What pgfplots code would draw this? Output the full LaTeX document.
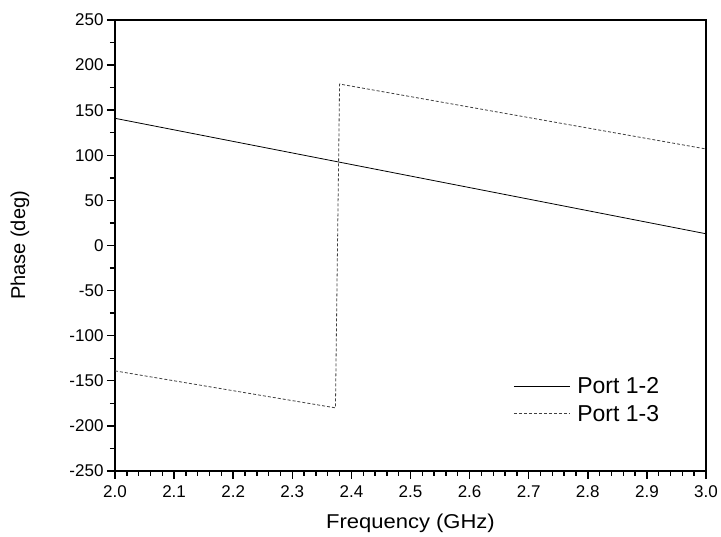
\documentclass[border=0pt]{standalone}
\usepackage{fontspec}
\setmainfont{Liberation Sans}
\newfontfamily\xlabfont[FakeStretch=1.1]{Liberation Sans}
\usepackage{pgfplots}
\pgfplotsset{compat=1.18}
\newcommand{\tl}{\fontsize{17}{19}\selectfont}
\begin{document}
\begin{tikzpicture}
\begin{axis}[
  at={(0pt,0pt)}, anchor=south west,
  scale only axis, width=591pt, height=451pt,
  xmin=2.0, xmax=3.0, ymin=-250, ymax=250,
  xtick={2.0,2.1,...,3.01}, ytick={-250,-200,...,250},
  xticklabels={\tl 2.0,\tl 2.1,\tl 2.2,\tl 2.3,\tl 2.4,\tl 2.5,\tl 2.6,\tl 2.7,\tl 2.8,\tl 2.9,\tl 3.0},
  yticklabels={\tl -250,\tl -200,\tl -150,\tl -100,\tl -50,\tl 0,\tl 50,\tl 100,\tl 150,\tl 200,\tl 250},
  every x tick label/.append style={font=\fontsize{17}{19}\selectfont, yshift=-3pt},
  every y tick label/.append style={font=\fontsize{17}{19}\selectfont},
  minor x tick num=4, minor y tick num=1,
  xtick pos=left, ytick pos=left, tick align=outside,
  major tick length=8pt, minor tick length=5pt,
  tick style={line width=1.4pt, black},
  axis line style={line width=1.6pt},
  xlabel={\xlabfont Frequency (GHz)}, ylabel={Phase (deg)},
  label style={font=\fontsize{20}{23}\selectfont},
  x label style={at={(axis description cs:0.5,-0.115)}, anchor=center},
  y label style={at={(axis description cs:-0.161,0.5)}, anchor=center},
  legend style={draw=none, fill=none, inner sep=0pt, at={(axis cs:2.674,-145)}, anchor=north west, font=\fontsize{23}{26}\selectfont, row sep=8pt, nodes={inner sep=1pt}},
  legend cell align=left,
  legend image code/.code={\draw[#1] (0pt,0pt) -- (56pt,0pt); \path (62pt,0pt);},
]
\addplot[black, line width=0.8pt] coordinates {(2.0,141) (3.0,13)};
\addlegendentry{Port 1-2}
\addplot[black!75, line width=0.8pt, dash pattern=on 3pt off 2pt] coordinates {(2.0,-139) (2.373,-180) (2.380,179) (3.0,107)};
\addlegendentry{Port 1-3}
\end{axis}
\pgfresetboundingbox
\path[use as bounding box] (-115pt,-66pt) rectangle (606pt,471pt);
\end{tikzpicture}
\end{document}
